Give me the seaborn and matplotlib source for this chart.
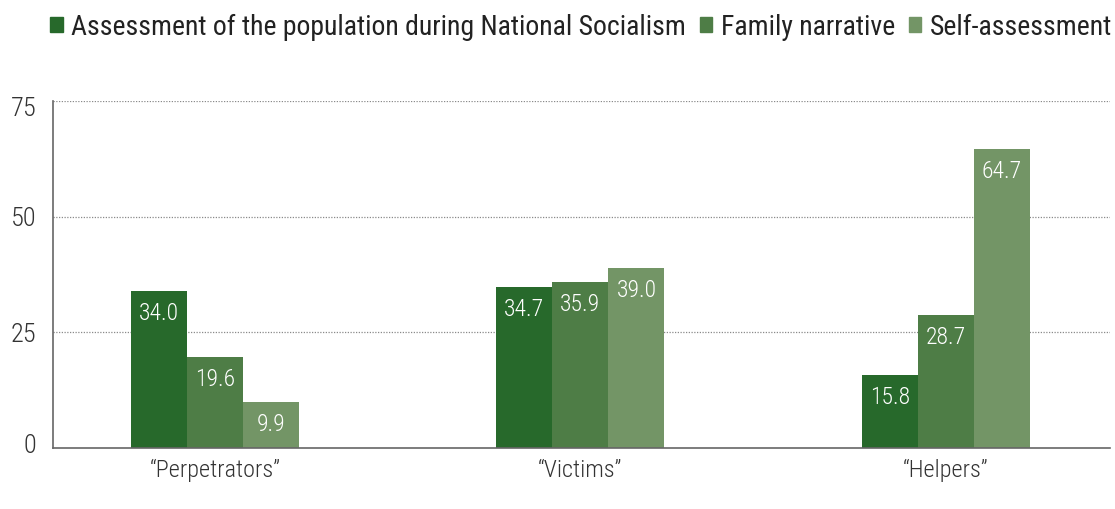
import matplotlib
matplotlib.use("Agg")
import matplotlib.pyplot as plt
import matplotlib.transforms as mtransforms
from matplotlib import font_manager
import seaborn as sns
import pandas as pd

categories = ["\u201cPerpetrators\u201d", "\u201cVictims\u201d", "\u201cHelpers\u201d"]
series = ["Assessment of the population during National Socialism",
          "Family narrative", "Self-assessment"]
population_nazi = [34.0, 34.7, 15.8]
family_narrative = [19.6, 35.9, 28.7]
self_assessment = [9.9, 39.0, 64.7]
y_ticks = [0, 25, 50, 75]

colors = ["#27692b", "#4e7d46", "#739566"]

names = {f.name for f in font_manager.fontManager.ttflist}
family = "Roboto Condensed" if "Roboto Condensed" in names else "Roboto"

df = pd.DataFrame({
    "category": categories * 3,
    "series": [s for s in series for _ in categories],
    "value": population_nazi + family_narrative + self_assessment,
})

sns.set_theme(style="white")
plt.rcParams["font.family"] = [family, "DejaVu Sans"]
plt.rcParams["font.weight"] = 300

fig = plt.figure(figsize=(11.15, 5.09), dpi=100)
ax = fig.add_axes([53 / 1115, 1 - 448 / 509, (1110 - 53) / 1115, (448 - 101) / 509])

sns.barplot(data=df, x="category", y="value", hue="series", order=categories,
            hue_order=series, palette=colors, width=0.46, gap=0, saturation=1,
            linewidth=0, legend=False, ax=ax)

for container in ax.containers:
    ax.bar_label(container, fmt="%.1f", label_type="edge", padding=-24.5,
                 color="white", fontsize=17, fontweight=300)

ax.set_xlim(-0.443, 2.449)
ax.set_ylim(0, 75)
ax.set_yticks(y_ticks)
ax.set_yticklabels([str(t) for t in y_ticks], fontsize=19, color="#333333", fontweight=300)
ax.tick_params(axis="y", length=0, pad=12)
ax.tick_params(axis="x", length=0, pad=8, labelsize=17.5, labelcolor="#333333")
for lbl in ax.get_xticklabels():
    lbl.set_fontweight(300)
ax.set_xlabel("")
ax.set_ylabel("")

# keep the outermost tick labels inside the axis range
shifts = {0: 4.5, 75: -5.5}
for lbl, t in zip(ax.get_yticklabels(), y_ticks):
    if t in shifts:
        off = mtransforms.ScaledTranslation(0, shifts[t] / 100, fig.dpi_scale_trans)
        lbl.set_transform(lbl.get_transform() + off)

for t in y_ticks[1:]:
    ax.axhline(t, color="#8a8a8a", linestyle=(0, (1, 1.2)), linewidth=0.9, zorder=0)

for side in ["top", "right"]:
    ax.spines[side].set_visible(False)
for side in ["left", "bottom"]:
    ax.spines[side].set_color("#666666")
    ax.spines[side].set_linewidth(1.2)

handles = [plt.Rectangle((0, 0), 1, 1, color=c) for c in colors]
fig.legend(handles, series, loc="center right", bbox_to_anchor=(1112 / 1115, 1 - 27 / 509),
           ncol=3, frameon=False, prop={"size": 20, "weight": 400},
           handlelength=0.45, handleheight=0.45,
           handletextpad=0.3, columnspacing=0.5, borderaxespad=0, borderpad=0,
           labelcolor="#222222")

fig.savefig("out.png", dpi=100)
